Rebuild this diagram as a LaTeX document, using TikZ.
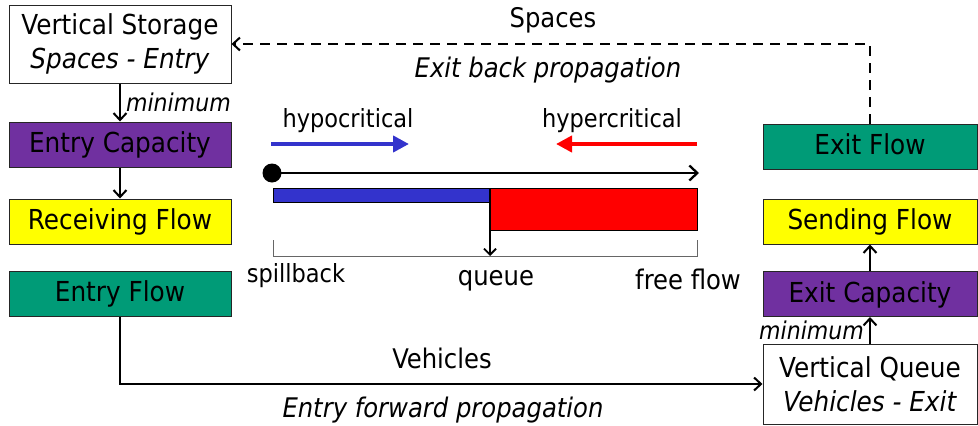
\documentclass[tikz,border=0pt]{standalone}
\usepackage{fontspec}
\setmainfont{DejaVu Sans Condensed}
\usetikzlibrary{arrows.meta,calc}
\definecolor{cpurple}{HTML}{7030A0}
\definecolor{cyellow}{HTML}{FFFF00}
\definecolor{cgreen}{HTML}{009B77}
\definecolor{cblue}{HTML}{3333CC}
\definecolor{cred}{HTML}{FF0000}
\tikzset{
  box/.style={draw=black!85, line width=1pt, minimum width=222pt, minimum height=45pt, inner sep=0pt, align=center, font=\fontsize{27.5}{33}\selectfont},
  sbox/.style={box, text height=20pt, text depth=4pt},
  rbox/.style={box, minimum width=214pt},
  srbox/.style={sbox, minimum width=214pt},
  conn/.style={line width=2.3pt, -{Straight Barb[length=7pt,width=13pt,line width=2pt]}},
  lbl/.style={font=\fontsize{27}{31}\selectfont, inner sep=0pt},
  ilbl/.style={font=\fontsize{27}{31}\selectfont\itshape, inner sep=0pt},
  slbl/.style={font=\fontsize{25}{29}\selectfont, inner sep=0pt},
  mlbl/.style={font=\fontsize{24.5}{28}\selectfont\itshape, inner sep=0pt},
}
\begin{document}
\begin{tikzpicture}[x=1pt,y=-1pt]
\useasboundingbox (0,0) rectangle (978,426);
% left column
\node[box, minimum height=78pt, font=\fontsize{27.5}{34}\selectfont] (vs) at (120,44) {Vertical Storage\\\textit{Spaces - Entry}};
\node[sbox, fill=cpurple] (ec) at (120,144.5) {Entry Capacity};
\node[sbox, fill=cyellow] (rf) at (120,221.5) {Receiving Flow};
\node[sbox, fill=cgreen] (ef) at (120,293.5) {Entry Flow};
% right column
\node[srbox, fill=cgreen] (xf) at (870,146.5) {Exit Flow};
\node[srbox, fill=cyellow] (sf) at (870,221.5) {Sending Flow};
\node[srbox, fill=cpurple] (xc) at (870,294) {Exit Capacity};
\node[rbox, minimum height=80pt, font=\fontsize{27.5}{34}\selectfont] (vq) at (870,384) {Vertical Queue\\\textit{Vehicles - Exit}};
% connectors
\draw[conn] (vs) -- node[right, mlbl, xshift=5pt] {minimum} (ec);
\draw[conn] (ec) -- (rf);
\draw[conn] (ef.south) |- (vq.west);
\draw[conn] (vq) -- node[left, mlbl, xshift=-5pt] {minimum} (xc);
\draw[conn] (xc) -- (sf);
\draw[conn, dash pattern=on 10pt off 7pt] (xf.north) |- (vs.east);
% labels on long connectors
\node[lbl] (sp) at (553,20) {Spaces};
\node[ilbl] (ebp) at (548,70) {Exit back propagation};
\node[lbl] (veh) at (442,358) {Vehicles};
\node[ilbl] (efp) at (443,410) {Entry forward propagation};
% middle diagram
\node[slbl] (hypo) at (348,121) {hypocritical};
\node[slbl] (hyper) at (612,121) {hypercritical};
\draw[cblue, line width=4pt, -{Triangle[length=16pt,width=16pt]}] (271,144) -- (409,144);
\draw[cred, line width=4pt, -{Triangle[length=16pt,width=16pt]}] (697,144) -- (556,144);
\fill[black] (272,173) circle (9.5pt);
\draw[line width=2.5pt, -{Straight Barb[length=8pt,width=15pt,line width=2.3pt]}] (272,173) -- (699,173);
\draw[black, line width=0.8pt, fill=cblue] (273,188) rectangle (490,202);
\draw[black, line width=0.8pt, fill=cred] (490,188) rectangle (697,230);
\draw[line width=2pt, -{Straight Barb[length=6pt,width=12pt,line width=1.8pt]}] (490,188) -- (490,256);
\draw[black!60, line width=0.8pt] (273,240) -- (273,256) -- (697,256) -- (697,240);
\node[slbl] (spill) at (296,276) {spillback};
\node[lbl] (queue) at (496,281) {queue};
\node[lbl] (ff) at (688,279) {free flow};
\end{tikzpicture}
\end{document}
